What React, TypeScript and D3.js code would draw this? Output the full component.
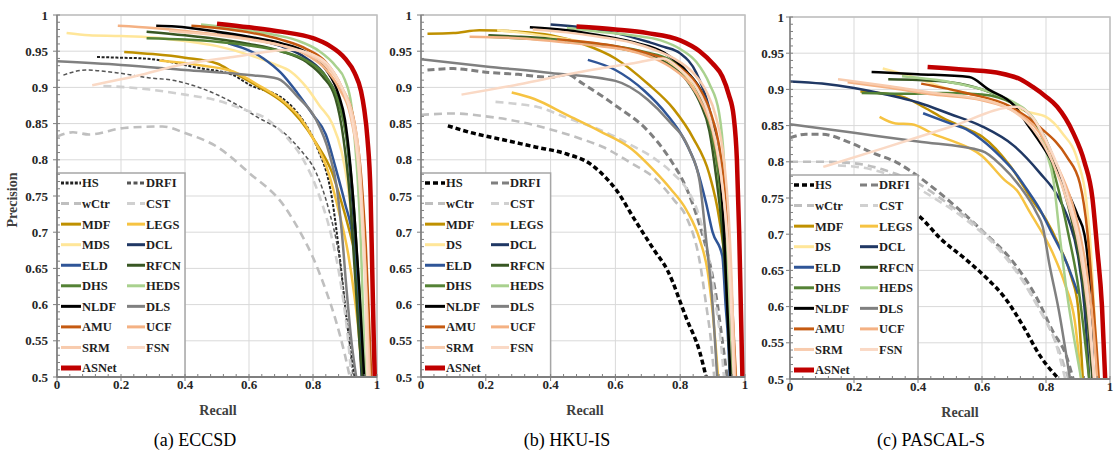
import React from "react";
import * as d3 from "d3";

type P = [number, number][];

// ---------------- series names ----------------
const SERIES = ["HS","DRFI","wCtr","CST","MDF","LEGS","MDS","DCL","ELD","RFCN","DHS","HEDS","NLDF","DLS","AMU","UCF","SRM","FSN","ASNet"];
const LABELS_A = SERIES;
const LABELS_BC = SERIES.map(s => (s === "MDS" ? "DS" : s));
const X_TICKS = [0, 0.2, 0.4, 0.6, 0.8, 1];
const Y_TICKS = [0.5, 0.55, 0.6, 0.65, 0.7, 0.75, 0.8, 0.85, 0.9, 0.95, 1];

// ---------------- (a) ECCSD ----------------
const A_HS: P = [[0.125,0.942],[0.2,0.941],[0.27,0.94],[0.33,0.937],[0.44,0.927],[0.55,0.917],[0.6,0.904],[0.71,0.883],[0.76,0.86],[0.81,0.82],[0.86,0.745],[0.885,0.66],[0.905,0.58],[0.92,0.53],[0.93,0.5]];
const A_DRFI: P = [[0.02,0.917],[0.09,0.924],[0.19,0.92],[0.29,0.913],[0.36,0.91],[0.45,0.899],[0.55,0.879],[0.63,0.858],[0.71,0.837],[0.76,0.814],[0.81,0.782],[0.85,0.73],[0.88,0.67],[0.9,0.6],[0.915,0.54],[0.925,0.5]];
const A_WCTR: P = [[0.0,0.832],[0.05,0.838],[0.1,0.835],[0.21,0.844],[0.33,0.846],[0.4,0.837],[0.5,0.818],[0.6,0.782],[0.71,0.736],[0.76,0.7],[0.8,0.665],[0.84,0.62],[0.87,0.58],[0.9,0.53],[0.915,0.5]];
const A_CST: P = [[0.145,0.902],[0.22,0.9],[0.29,0.897],[0.4,0.89],[0.5,0.882],[0.58,0.87],[0.66,0.855],[0.72,0.83],[0.77,0.8],[0.82,0.75],[0.86,0.69],[0.89,0.62],[0.91,0.55],[0.92,0.5]];
const A_MDF: P = [[0.21,0.949],[0.3,0.946],[0.4,0.941],[0.5,0.933],[0.55,0.921],[0.63,0.901],[0.71,0.878],[0.76,0.855],[0.81,0.823],[0.86,0.782],[0.89,0.74],[0.915,0.7],[0.935,0.665]];
const A_LEGS: P = [[0.32,0.937],[0.44,0.931],[0.55,0.922],[0.63,0.903],[0.71,0.88],[0.76,0.858],[0.8,0.83],[0.85,0.78],[0.88,0.73],[0.91,0.67],[0.93,0.61],[0.945,0.55],[0.952,0.5]];
const A_MDS: P = [[0.03,0.975],[0.1,0.972],[0.2,0.971],[0.3,0.969],[0.4,0.964],[0.5,0.957],[0.6,0.945],[0.68,0.932],[0.73,0.922],[0.78,0.9],[0.82,0.875],[0.86,0.85],[0.89,0.81],[0.91,0.76],[0.93,0.67],[0.945,0.58],[0.953,0.5]];
const A_DCL: P = [[0.5,0.975],[0.6,0.968],[0.7,0.957],[0.78,0.94],[0.84,0.915],[0.88,0.88],[0.905,0.83],[0.92,0.76],[0.935,0.66],[0.945,0.56],[0.952,0.5]];
const A_ELD: P = [[0.535,0.961],[0.645,0.94],[0.7,0.92],[0.75,0.893],[0.8,0.862],[0.84,0.835],[0.87,0.79],[0.9,0.74],[0.925,0.69],[0.94,0.62],[0.95,0.55],[0.955,0.5]];
const A_RFCN: P = [[0.28,0.977],[0.4,0.972],[0.5,0.967],[0.6,0.96],[0.7,0.95],[0.78,0.935],[0.83,0.915],[0.87,0.885],[0.895,0.83],[0.915,0.75],[0.93,0.65],[0.945,0.55],[0.955,0.5]];
const A_DHS: P = [[0.28,0.968],[0.4,0.966],[0.5,0.963],[0.6,0.958],[0.7,0.95],[0.78,0.937],[0.84,0.915],[0.88,0.88],[0.905,0.83],[0.925,0.75],[0.94,0.65],[0.955,0.55],[0.965,0.5]];
const A_HEDS: P = [[0.45,0.987],[0.55,0.982],[0.65,0.975],[0.75,0.965],[0.82,0.95],[0.87,0.93],[0.9,0.91],[0.92,0.875],[0.93,0.83],[0.94,0.77],[0.95,0.68],[0.957,0.58],[0.963,0.5]];
const A_NLDF: P = [[0.31,0.985],[0.37,0.984],[0.5,0.977],[0.6,0.97],[0.7,0.961],[0.78,0.948],[0.84,0.925],[0.88,0.89],[0.9,0.855],[0.915,0.8],[0.93,0.72],[0.945,0.62],[0.96,0.5]];
const A_DLS: P = [[0,0.936],[0.2,0.931],[0.4,0.924],[0.6,0.917],[0.69,0.912],[0.75,0.888],[0.81,0.855],[0.85,0.81],[0.875,0.76],[0.89,0.7],[0.905,0.62],[0.92,0.55],[0.935,0.5]];
const A_AMU: P = [[0.42,0.985],[0.5,0.982],[0.6,0.976],[0.7,0.966],[0.78,0.953],[0.84,0.935],[0.89,0.9],[0.93,0.85],[0.95,0.78],[0.965,0.68],[0.975,0.58],[0.982,0.5]];
const A_UCF: P = [[0.19,0.985],[0.3,0.982],[0.4,0.978],[0.5,0.973],[0.6,0.967],[0.7,0.958],[0.78,0.945],[0.84,0.925],[0.88,0.9],[0.92,0.855],[0.945,0.78],[0.96,0.68],[0.97,0.58],[0.978,0.5]];
const A_SRM: P = [[0.35,0.978],[0.5,0.972],[0.6,0.966],[0.7,0.958],[0.78,0.947],[0.84,0.93],[0.89,0.9],[0.925,0.86],[0.945,0.8],[0.958,0.7],[0.968,0.6],[0.975,0.5]];
const A_FSN: P = [[0.11,0.903],[0.25,0.916],[0.384,0.931],[0.55,0.942],[0.73,0.952],[0.8,0.945],[0.85,0.93],[0.89,0.9],[0.92,0.86],[0.94,0.8],[0.955,0.7],[0.965,0.6],[0.97,0.5]];
const A_ASNET: P = [[0.5,0.988],[0.6,0.983],[0.7,0.977],[0.8,0.968],[0.85,0.958],[0.9,0.94],[0.93,0.92],[0.95,0.895],[0.96,0.87],[0.97,0.83],[0.98,0.75],[0.985,0.65],[0.99,0.55],[0.993,0.5]];

// ---------------- (b) HKU-IS ----------------
const B_HS: P = [[0.083,0.847],[0.15,0.838],[0.25,0.828],[0.35,0.818],[0.45,0.808],[0.52,0.795],[0.56,0.78],[0.6,0.76],[0.66,0.717],[0.72,0.675],[0.76,0.648],[0.82,0.58],[0.86,0.535],[0.88,0.5]];
const B_DRFI: P = [[0.02,0.924],[0.1,0.926],[0.2,0.921],[0.3,0.918],[0.4,0.914],[0.45,0.918],[0.5,0.905],[0.6,0.875],[0.7,0.84],[0.77,0.8],[0.82,0.76],[0.86,0.71],[0.89,0.66],[0.915,0.6],[0.93,0.55],[0.945,0.5]];
const B_WCTR: P = [[0.0,0.862],[0.1,0.864],[0.2,0.86],[0.3,0.853],[0.4,0.842],[0.5,0.828],[0.56,0.818],[0.65,0.795],[0.72,0.775],[0.78,0.745],[0.82,0.72],[0.86,0.66],[0.88,0.6],[0.895,0.55],[0.905,0.5]];
const B_CST: P = [[0.23,0.88],[0.3,0.877],[0.36,0.873],[0.45,0.858],[0.56,0.84],[0.65,0.82],[0.72,0.802],[0.78,0.78],[0.82,0.76],[0.86,0.72],[0.89,0.66],[0.91,0.6],[0.925,0.55],[0.935,0.5]];
const B_MDF: P = [[0.02,0.974],[0.1,0.975],[0.18,0.979],[0.3,0.977],[0.4,0.972],[0.5,0.96],[0.6,0.94],[0.7,0.905],[0.78,0.87],[0.84,0.83],[0.89,0.78],[0.92,0.72],[0.94,0.65],[0.95,0.58],[0.96,0.5]];
const B_LEGS: P = [[0.28,0.893],[0.35,0.884],[0.45,0.862],[0.55,0.84],[0.65,0.815],[0.72,0.785],[0.77,0.76],[0.82,0.73],[0.86,0.69],[0.885,0.645],[0.9,0.59],[0.91,0.54],[0.917,0.5]];
const B_DS: P = [[0.235,0.979],[0.3,0.976],[0.4,0.97],[0.5,0.963],[0.6,0.955],[0.7,0.945],[0.76,0.936],[0.82,0.915],[0.86,0.885],[0.89,0.845],[0.915,0.79],[0.935,0.71],[0.95,0.62],[0.962,0.5]];
const B_DCL: P = [[0.4,0.987],[0.5,0.983],[0.6,0.975],[0.7,0.963],[0.75,0.956],[0.8,0.947],[0.85,0.92],[0.89,0.87],[0.92,0.8],[0.94,0.7],[0.952,0.6],[0.96,0.5]];
const B_ELD: P = [[0.515,0.938],[0.6,0.924],[0.69,0.895],[0.76,0.862],[0.81,0.83],[0.85,0.79],[0.88,0.74],[0.9,0.7],[0.93,0.667],[0.94,0.6],[0.948,0.55],[0.953,0.5]];
const B_RFCN: P = [[0.208,0.972],[0.3,0.97],[0.4,0.967],[0.5,0.962],[0.6,0.955],[0.7,0.945],[0.77,0.93],[0.82,0.91],[0.86,0.88],[0.89,0.84],[0.91,0.78],[0.93,0.7],[0.945,0.6],[0.955,0.5]];
const B_DHS: P = [[0.208,0.97],[0.3,0.968],[0.4,0.966],[0.5,0.962],[0.6,0.957],[0.7,0.948],[0.76,0.94],[0.82,0.92],[0.86,0.89],[0.89,0.85],[0.915,0.79],[0.935,0.7],[0.95,0.6],[0.96,0.5]];
const B_HEDS: P = [[0.45,0.982],[0.55,0.977],[0.65,0.972],[0.74,0.965],[0.8,0.953],[0.85,0.935],[0.89,0.905],[0.92,0.865],[0.935,0.8],[0.945,0.7],[0.95,0.6],[0.955,0.5]];
const B_NLDF: P = [[0.336,0.983],[0.45,0.979],[0.55,0.972],[0.65,0.963],[0.75,0.948],[0.82,0.922],[0.87,0.89],[0.9,0.85],[0.92,0.8],[0.935,0.7],[0.945,0.6],[0.955,0.5]];
const B_DLS: P = [[0,0.939],[0.2,0.929],[0.4,0.92],[0.6,0.909],[0.7,0.883],[0.76,0.856],[0.83,0.812],[0.86,0.77],[0.88,0.69],[0.9,0.6],[0.914,0.5]];
const B_AMU: P = [[0.42,0.966],[0.5,0.963],[0.6,0.957],[0.7,0.947],[0.75,0.94],[0.8,0.927],[0.85,0.905],[0.89,0.87],[0.92,0.82],[0.94,0.75],[0.955,0.65],[0.965,0.56],[0.972,0.5]];
const B_UCF: P = [[0.15,0.97],[0.3,0.968],[0.45,0.962],[0.55,0.957],[0.65,0.95],[0.72,0.94],[0.78,0.925],[0.83,0.905],[0.87,0.875],[0.9,0.84],[0.925,0.78],[0.945,0.7],[0.96,0.6],[0.97,0.5]];
const B_SRM: P = [[0.345,0.98],[0.45,0.976],[0.55,0.97],[0.65,0.962],[0.72,0.952],[0.78,0.94],[0.84,0.92],[0.88,0.895],[0.91,0.86],[0.935,0.8],[0.95,0.72],[0.96,0.62],[0.968,0.5]];
const B_FSN: P = [[0.125,0.89],[0.3,0.904],[0.5,0.922],[0.65,0.933],[0.747,0.94],[0.8,0.925],[0.85,0.9],[0.89,0.86],[0.92,0.8],[0.94,0.72],[0.955,0.62],[0.965,0.5]];
const B_ASNET: P = [[0.48,0.984],[0.6,0.98],[0.7,0.975],[0.8,0.965],[0.86,0.95],[0.9,0.933],[0.93,0.915],[0.95,0.89],[0.965,0.86],[0.975,0.8],[0.982,0.7],[0.987,0.6],[0.992,0.5]];

// ---------------- (c) PASCAL-S ----------------
const C_HS: P = [[0.1,0.772],[0.2,0.762],[0.3,0.747],[0.406,0.724],[0.47,0.694],[0.55,0.665],[0.62,0.637],[0.67,0.613],[0.73,0.572],[0.78,0.533],[0.84,0.5]];
const C_DRFI: P = [[0,0.833],[0.05,0.838],[0.1,0.838],[0.19,0.826],[0.26,0.812],[0.33,0.8],[0.4,0.78],[0.5,0.745],[0.6,0.705],[0.7,0.66],[0.77,0.613],[0.82,0.567],[0.865,0.53],[0.885,0.5]];
const C_WCTR: P = [[0,0.8],[0.1,0.8],[0.2,0.798],[0.3,0.788],[0.4,0.77],[0.5,0.74],[0.6,0.705],[0.7,0.655],[0.75,0.62],[0.8,0.58],[0.84,0.54],[0.87,0.5]];
const C_CST: P = [[0.15,0.795],[0.25,0.79],[0.35,0.775],[0.45,0.75],[0.55,0.72],[0.65,0.68],[0.72,0.64],[0.78,0.595],[0.83,0.55],[0.86,0.5]];
const C_MDF: P = [[0.22,0.897],[0.35,0.89],[0.42,0.875],[0.48,0.86],[0.55,0.846],[0.6,0.835],[0.69,0.793],[0.76,0.745],[0.8,0.72],[0.84,0.685],[0.88,0.64],[0.9,0.6],[0.915,0.5]];
const C_LEGS: P = [[0.28,0.862],[0.33,0.853],[0.38,0.852],[0.45,0.838],[0.5,0.83],[0.6,0.808],[0.67,0.775],[0.71,0.76],[0.75,0.73],[0.82,0.675],[0.86,0.63],[0.89,0.58],[0.91,0.5]];
const C_DS: P = [[0.29,0.929],[0.4,0.915],[0.5,0.9],[0.6,0.89],[0.7,0.875],[0.75,0.868],[0.8,0.862],[0.85,0.84],[0.9,0.8],[0.925,0.75],[0.94,0.68],[0.95,0.6],[0.96,0.5]];
const C_DCL: P = [[0.0,0.911],[0.1,0.908],[0.2,0.902],[0.3,0.893],[0.4,0.882],[0.5,0.866],[0.6,0.849],[0.7,0.822],[0.78,0.785],[0.84,0.75],[0.87,0.72],[0.9,0.67],[0.92,0.6],[0.935,0.5]];
const C_ELD: P = [[0.416,0.867],[0.5,0.853],[0.55,0.845],[0.6,0.83],[0.66,0.806],[0.7,0.787],[0.74,0.762],[0.78,0.735],[0.82,0.7],[0.86,0.665],[0.9,0.618]];
const C_RFCN: P = [[0.307,0.914],[0.4,0.913],[0.5,0.91],[0.6,0.9],[0.7,0.88],[0.75,0.865],[0.8,0.83],[0.85,0.77],[0.88,0.72],[0.91,0.65],[0.93,0.58],[0.945,0.5]];
const C_DHS: P = [[0.224,0.895],[0.35,0.894],[0.47,0.895],[0.6,0.893],[0.7,0.88],[0.75,0.865],[0.8,0.82],[0.84,0.76],[0.87,0.7],[0.9,0.63],[0.92,0.56],[0.935,0.5]];
const C_HEDS: P = [[0.35,0.918],[0.5,0.91],[0.6,0.9],[0.7,0.882],[0.74,0.87],[0.78,0.845],[0.8,0.815],[0.823,0.775],[0.845,0.69],[0.865,0.62],[0.89,0.55],[0.91,0.5]];
const C_NLDF: P = [[0.255,0.924],[0.4,0.921],[0.56,0.917],[0.62,0.9],[0.7,0.878],[0.74,0.853],[0.81,0.807],[0.865,0.761],[0.9,0.725],[0.92,0.7],[0.935,0.64],[0.948,0.5]];
const C_DLS: P = [[0,0.852],[0.2,0.84],[0.4,0.828],[0.6,0.815],[0.66,0.795],[0.72,0.765],[0.77,0.73],[0.79,0.71],[0.81,0.66],[0.84,0.595],[0.875,0.5]];
const C_AMU: P = [[0.41,0.908],[0.55,0.895],[0.69,0.876],[0.78,0.848],[0.865,0.807],[0.906,0.77],[0.93,0.7],[0.945,0.62],[0.957,0.55],[0.965,0.5]];
const C_UCF: P = [[0.18,0.91],[0.3,0.903],[0.45,0.893],[0.6,0.885],[0.7,0.87],[0.78,0.84],[0.84,0.79],[0.89,0.73],[0.93,0.64],[0.95,0.56],[0.96,0.5]];
const C_SRM: P = [[0.15,0.914],[0.3,0.905],[0.45,0.895],[0.55,0.89],[0.69,0.872],[0.76,0.845],[0.82,0.8],[0.87,0.74],[0.9,0.69],[0.93,0.6],[0.95,0.5]];
const C_FSN: P = [[0.104,0.793],[0.3,0.82],[0.5,0.848],[0.708,0.876],[0.76,0.86],[0.8,0.83],[0.84,0.79],[0.87,0.75],[0.9,0.7],[0.92,0.65],[0.94,0.57],[0.95,0.5]];
const C_ASNET: P = [[0.43,0.931],[0.55,0.927],[0.66,0.922],[0.72,0.914],[0.76,0.903],[0.8,0.89],[0.835,0.876],[0.885,0.84],[0.92,0.8],[0.945,0.75],[0.96,0.68],[0.975,0.6],[0.985,0.5]];

const DATA_A = [A_HS,A_DRFI,A_WCTR,A_CST,A_MDF,A_LEGS,A_MDS,A_DCL,A_ELD,A_RFCN,A_DHS,A_HEDS,A_NLDF,A_DLS,A_AMU,A_UCF,A_SRM,A_FSN,A_ASNET];
const DATA_B = [B_HS,B_DRFI,B_WCTR,B_CST,B_MDF,B_LEGS,B_DS,B_DCL,B_ELD,B_RFCN,B_DHS,B_HEDS,B_NLDF,B_DLS,B_AMU,B_UCF,B_SRM,B_FSN,B_ASNET];
const DATA_C = [C_HS,C_DRFI,C_WCTR,C_CST,C_MDF,C_LEGS,C_DS,C_DCL,C_ELD,C_RFCN,C_DHS,C_HEDS,C_NLDF,C_DLS,C_AMU,C_UCF,C_SRM,C_FSN,C_ASNET];

// ---------------- styles ----------------
const COLORS = ["#000000","#7f7f7f","#bfbfbf","#d0d0d0","#bf9000","#f6c342","#ffe699","#203864","#2f5597","#385723","#548235","#a9d18e","#000000","#808080","#c55a11","#f4b183","#f8cbad","#fad9c5","#c00000"];

type Sty = { color: string; w: number; dash?: string };
function styleFor(i: number, thin: boolean): Sty {
  const name = SERIES[i];
  if (name === "HS") return thin ? { color: "#222", w: 2, dash: "3,1.6" } : { color: "#000", w: 3.5, dash: "5,3" };
  if (name === "DRFI") return thin ? { color: "#555", w: 1.5, dash: "4,2.5" } : { color: "#7f7f7f", w: 3, dash: "7,4" };
  if (name === "wCtr" || name === "CST") return { color: COLORS[i], w: 2.6, dash: "8,5" };
  if (name === "ASNet") return { color: COLORS[i], w: 4.5 };
  return { color: COLORS[i], w: 2.5 };
}

const FONT = "Liberation Serif, DejaVu Serif, Times New Roman, serif";

type Cfg = {
  id: string; title: string; titleX: number; recallX: number;
  x0: number; x1: number; y0: number; y1: number; labOff: number;
  data: P[]; labels: string[]; thin: boolean; showYTitle: boolean;
};

const PANELS: Cfg[] = [
  { id: "a", title: "(a) ECCSD", titleX: 195, recallX: 218, x0: 57, x1: 377, y0: 15, y1: 377, labOff: 9, data: DATA_A, labels: LABELS_A, thin: true, showYTitle: true },
  { id: "b", title: "(b) HKU-IS", titleX: 567, recallX: 585, x0: 421, x1: 745, y0: 15, y1: 377, labOff: 9, data: DATA_B, labels: LABELS_BC, thin: false, showYTitle: false },
  { id: "c", title: "(c) PASCAL-S", titleX: 931, recallX: 960, x0: 790, x1: 1110, y0: 17, y1: 379, labOff: 6, data: DATA_C, labels: LABELS_BC, thin: false, showYTitle: false },
];

function fmt(v: number) {
  return String(+v.toFixed(2));
}

function Panel({ cfg }: { cfg: Cfg }) {
  const x = d3.scaleLinear().domain([0, 1]).range([cfg.x0, cfg.x1]);
  const y = d3.scaleLinear().domain([0.5, 1]).range([cfg.y1, cfg.y0]);
  const line = d3.line<[number, number]>().x(d => x(d[0])).y(d => y(d[1])).curve(d3.curveMonotoneX);
  const yMinor = d3.range(0, 51).map(i => 0.5 + i * 0.01);
  const xMinor = d3.range(0, 26).map(i => i * 0.04);
  const clipId = "clip-" + cfg.id;
  const legTop = cfg.y1 - 204;
  const legRight = x(0.4);
  const rowY = (r: number) => cfg.y1 - 9 - (9 - r) * 20.55;
  const txt = { fontFamily: FONT };
  return (
    <g>
      <defs>
        <clipPath id={clipId}>
          <rect x={cfg.x0} y={cfg.y0} width={cfg.x1 - cfg.x0} height={cfg.y1 - cfg.y0} />
        </clipPath>
      </defs>
      {Y_TICKS.map(v => (
        <line key={"gy" + v} x1={cfg.x0} x2={cfg.x1} y1={y(v)} y2={y(v)} stroke="#d9d9d9" strokeWidth={1} />
      ))}
      {X_TICKS.map(v => (
        <line key={"gx" + v} x1={x(v)} x2={x(v)} y1={cfg.y0} y2={cfg.y1} stroke="#d9d9d9" strokeWidth={1} />
      ))}
      <rect x={cfg.x0} y={cfg.y0} width={cfg.x1 - cfg.x0} height={cfg.y1 - cfg.y0} fill="none" stroke="#bfbfbf" strokeWidth={1.5} />
      <g clipPath={`url(#${clipId})`}>
        {cfg.data.map((d, i) => {
          const s = styleFor(i, cfg.thin);
          return (
            <path key={i} d={line(d) || ""} fill="none" stroke={s.color} strokeWidth={s.w}
              strokeDasharray={s.dash} strokeLinejoin="round" />
          );
        })}
      </g>
      <rect x={cfg.x0} y={legTop} width={legRight - cfg.x0} height={cfg.y1 - legTop} fill="#ffffff" stroke="#a6a6a6" strokeWidth={1.5} />
      {cfg.labels.map((lab, i) => {
        const r = Math.floor(i / 2);
        const c = i % 2;
        const s = styleFor(i, cfg.thin);
        const lx0 = cfg.x0 + (c === 0 ? 4 : 70);
        const lx1 = cfg.x0 + (c === 0 ? 24 : 88);
        const ty = rowY(r);
        return (
          <g key={"lg" + i}>
            <line x1={lx0} x2={lx1} y1={ty} y2={ty} stroke={s.color} strokeWidth={SERIES[i] === "ASNet" ? 5 : Math.max(s.w, 3)} strokeDasharray={s.dash} />
            <text x={lx1 + 1} y={ty} dy="0.35em" style={txt} fontWeight="bold" fontSize={12.5} fill="#1f1f1f">{lab}</text>
          </g>
        );
      })}
      <line x1={cfg.x0} x2={cfg.x1} y1={cfg.y1} y2={cfg.y1} stroke="#7f7f7f" strokeWidth={2} />
      <line x1={cfg.x0} x2={cfg.x0} y1={cfg.y0} y2={cfg.y1} stroke="#7f7f7f" strokeWidth={1.5} />
      {yMinor.map(v => (
        <line key={"my" + v} x1={cfg.x0} x2={cfg.x0 + 3} y1={y(v)} y2={y(v)} stroke="#7f7f7f" strokeWidth={1} />
      ))}
      {xMinor.map(v => (
        <line key={"mx" + v} x1={x(v)} x2={x(v)} y1={cfg.y1} y2={cfg.y1 - 3} stroke="#7f7f7f" strokeWidth={1} />
      ))}
      {Y_TICKS.map(v => (
        <line key={"ty" + v} x1={cfg.x0 - 4} x2={cfg.x0} y1={y(v)} y2={y(v)} stroke="#7f7f7f" strokeWidth={1} />
      ))}
      {X_TICKS.map(v => (
        <line key={"tx" + v} x1={x(v)} x2={x(v)} y1={cfg.y1} y2={cfg.y1 + 4} stroke="#7f7f7f" strokeWidth={1} />
      ))}
      {Y_TICKS.map(v => (
        <text key={"ly" + v} x={cfg.x0 - cfg.labOff} y={y(v)} dy="0.35em" textAnchor="end" style={txt} fontWeight="bold" fontSize={13} fill="#262626">{fmt(v)}</text>
      ))}
      {X_TICKS.map(v => (
        <text key={"lx" + v} x={x(v)} y={cfg.y1 + 12} textAnchor="middle" style={txt} fontWeight="bold" fontSize={13} fill="#262626">{fmt(v)}</text>
      ))}
      <text x={cfg.recallX} y={cfg.y1 + 38} textAnchor="middle" style={txt} fontWeight="bold" fontSize={14} fill="#404040">Recall</text>
      {cfg.showYTitle && (
        <text transform={`translate(17,${(cfg.y0 + cfg.y1) / 2 + 4}) rotate(-90)`} textAnchor="middle" style={txt} fontWeight="bold" fontSize={14} fill="#404040">Precision</text>
      )}
      <text x={cfg.titleX} y={446} textAnchor="middle" style={txt} fontSize={18} fill="#000">{cfg.title}</text>
    </g>
  );
}

export default function App() {
  return (
    <svg width={1113} height={450} viewBox="0 0 1113 450" style={{ display: "block", position: "absolute", left: 0, top: 0, background: "#fff" }}>
      <rect x={0} y={0} width={1113} height={450} fill="#fff" />
      {PANELS.map(p => (
        <Panel key={p.id} cfg={p} />
      ))}
    </svg>
  );
}
